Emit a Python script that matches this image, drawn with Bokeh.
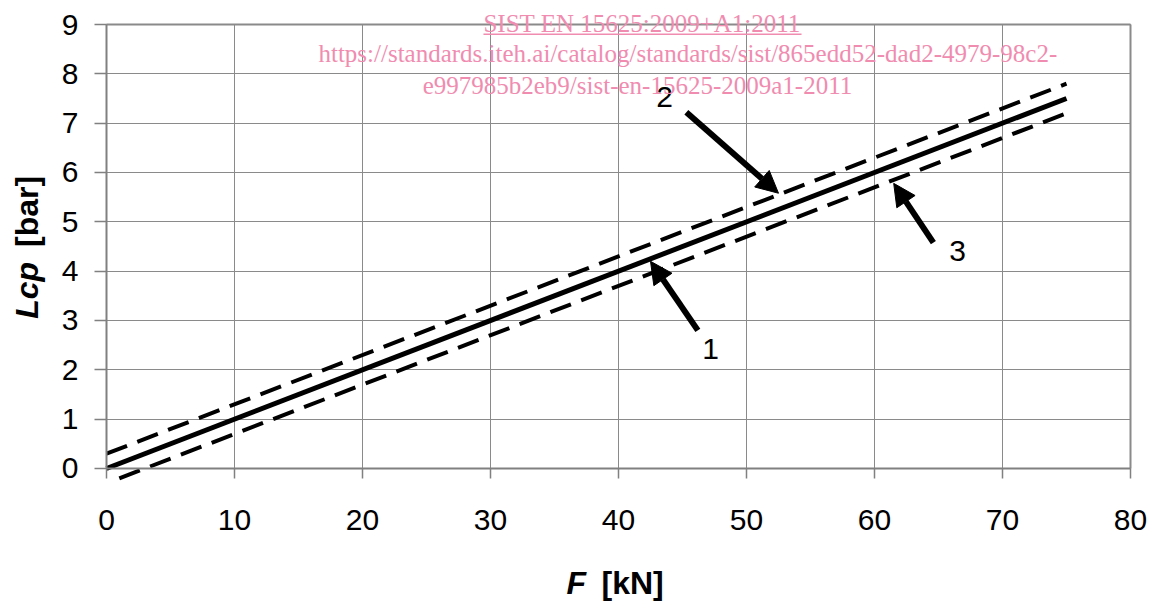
from bokeh.plotting import figure
from bokeh.models import Label, Arrow, NormalHead, FixedTicker, Range1d, Grid
from bokeh.embed import file_html
from bokeh.resources import INLINE
from math import pi

# --- data -------------------------------------------------------------
F_solid = [0, 75]
Lcp_solid = [0, 7.5]
F_upper = [0, 75]
Lcp_upper = [0.3, 7.8]
F_lower = [1, 75]
Lcp_lower = [-0.2, 7.2]

x_ticks = [0, 10, 20, 30, 40, 50, 60, 70, 80]
y_ticks = [0, 1, 2, 3, 4, 5, 6, 7, 8, 9]

callout_labels = ["1", "2", "3"]
callout_text_pos = [(47.2, 2.43), (43.6, 7.54), (66.5, 4.4)]
callout_tail = [(46.2, 2.80), (45.3, 7.22), (64.6, 4.58)]
callout_tip = [(42.5, 4.20), (52.5, 5.58), (61.5, 5.78)]

wm_lines = ["SIST EN 15625:2009+A1:2011",
            "https://standards.iteh.ai/catalog/standards/sist/865edd52-dad2-4979-98c2-",
            "e997985b2eb9/sist-en-15625-2009a1-2011"]
wm_pos = [(29.45, 9.03), (16.56, 8.42), (24.7, 7.76)]
wm_underline = (29.45, 54.3, 8.80)
wm_color = "#F08CB0"

SANS = "Liberation Sans"
SERIF = "Liberation Serif"

# plot area: x 0..80 -> px 106..1130, y 0..9 -> px 468..24 (frame spans whole canvas)
p = figure(width=1153, height=603,
           x_range=Range1d(-106 / 12.8, 80 + 23 / 12.8),
           y_range=Range1d(-135 / 49.333, 9 + 24 / 49.333),
           output_backend="svg", toolbar_location=None,
           min_border_left=0, min_border_right=0, min_border_top=0, min_border_bottom=0)
p.title.visible = False
p.outline_line_color = None
p.background_fill_color = "white"

for ax in (p.xaxis, p.yaxis):
    ax.fixed_location = 0
    ax.axis_line_color = "#808080"
    ax.axis_line_width = 2
    ax.major_tick_line_color = "#808080"
    ax.major_tick_line_width = 1.5
    ax.major_tick_in = 0
    ax.minor_tick_line_color = None
    ax.major_label_text_font = SANS
    ax.major_label_text_font_size = "30px"
    ax.major_label_text_color = "black"

p.xaxis.ticker = FixedTicker(ticks=x_ticks)
p.yaxis.ticker = FixedTicker(ticks=y_ticks)
p.xaxis.bounds = (0, 80)
p.yaxis.bounds = (0, 9)
p.xaxis.major_tick_out = 10
p.xaxis.major_label_standoff = 32
p.yaxis.major_tick_out = 12
p.yaxis.major_label_standoff = 16

p.xgrid.ticker = FixedTicker(ticks=x_ticks)
p.ygrid.ticker = FixedTicker(ticks=y_ticks)
p.xgrid.bounds = (0, 80)
p.ygrid.bounds = (0, 9)
p.xgrid.cross_bounds = (0, 9)
p.ygrid.cross_bounds = (0, 80)
for g in (p.xgrid, p.ygrid):
    g.grid_line_color = "#8a8a8a"
    g.grid_line_width = 1

# slightly heavier frame edges at top and right
p.add_layout(Grid(dimension=1, ticker=FixedTicker(ticks=[9]), bounds=(9, 9), cross_bounds=(0, 80),
                  grid_line_color="#8a8a8a", grid_line_width=2))
p.add_layout(Grid(dimension=0, ticker=FixedTicker(ticks=[80]), bounds=(80, 80), cross_bounds=(0, 9),
                  grid_line_color="#8a8a8a", grid_line_width=2))

# --- lines ---
p.line(F_upper, Lcp_upper, line_color="black", line_width=4, line_dash="22 11")
p.line(F_lower, Lcp_lower, line_color="black", line_width=4, line_dash="22 11")
p.line(F_solid, Lcp_solid, line_color="black", line_width=5)

# --- callouts ---
for lab, (tx, ty), (ax0, ay0), (bx, by) in zip(callout_labels, callout_text_pos, callout_tail, callout_tip):
    p.add_layout(Label(x=tx, y=ty, text=lab, text_font=SANS, text_font_size="30px",
                       text_align="center", text_baseline="middle", text_color="black"))
    p.add_layout(Arrow(x_start=ax0, y_start=ay0, x_end=bx, y_end=by, line_width=6, line_color="black",
                       end=NormalHead(size=22, fill_color="black", line_color="black", line_width=1)))

# --- watermark ---
for t, (wx, wy) in zip(wm_lines, wm_pos):
    p.add_layout(Label(x=wx, y=wy, text=t, text_font=SERIF, text_font_size="25px",
                       text_align="left", text_baseline="middle", text_color=wm_color))
p.segment(x0=[wm_underline[0]], y0=[wm_underline[2]], x1=[wm_underline[1]], y1=[wm_underline[2]],
          line_color=wm_color, line_width=1.5)

# --- axis titles ---
p.add_layout(Label(x=36.7, y=-2.33, text="F", text_font=SANS, text_font_size="32px", text_color="black",
                   text_font_style="bold italic", text_align="center", text_baseline="middle"))
p.add_layout(Label(x=41.1, y=-2.33, text="[kN]", text_font=SANS, text_font_size="32px", text_color="black",
                   text_font_style="bold", text_align="center", text_baseline="middle"))
p.add_layout(Label(x=-6.2, y=3.61, text="Lcp", text_font=SANS, text_font_size="32px", text_color="black",
                   text_font_style="bold italic", text_align="center", text_baseline="middle", angle=pi / 2))
p.add_layout(Label(x=-6.2, y=5.21, text="[bar]", text_font=SANS, text_font_size="32px", text_color="black",
                   text_font_style="bold", text_align="center", text_baseline="middle", angle=pi / 2))

open("out.html", "w").write(file_html(p, INLINE))
